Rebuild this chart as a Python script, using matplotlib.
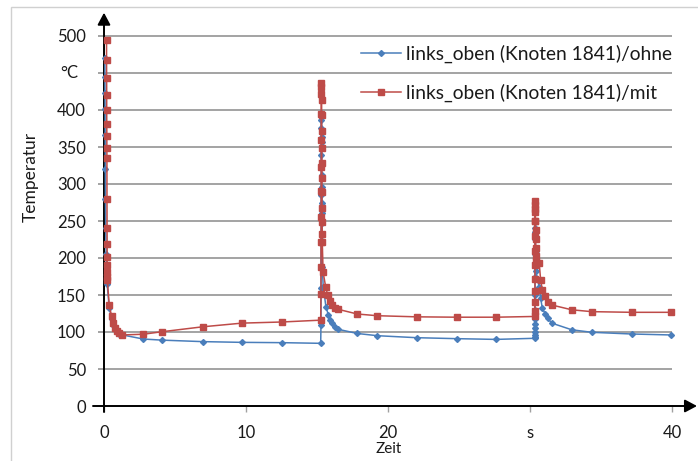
import matplotlib
matplotlib.use("Agg")
import matplotlib.pyplot as plt
from matplotlib.patches import Rectangle

plt.rcParams['font.family'] = ['Lato', 'DejaVu Sans']

# Zeit [s] / Temperatur [°C] -- links_oben (Knoten 1841), ohne
t_ohne = [0.06, 0.065, 0.07, 0.075, 0.08, 0.09, 0.10, 0.12, 0.15, 0.18, 0.22, 0.37, 0.54, 0.66,
          0.77, 0.94, 1.08, 1.3, 2.77, 4.1, 6.94, 9.72, 12.5, 15.26,
          15.28, 15.285, 15.29, 15.295, 15.30, 15.305, 15.31, 15.315, 15.32, 15.325, 15.33,
          15.335, 15.34, 15.345, 15.35, 15.355, 15.36, 15.365, 15.37, 15.44, 15.63, 15.8,
          15.92, 16.08, 16.27, 16.5, 17.84, 19.25, 22.02, 24.84, 27.6, 30.33,
          30.34, 30.34, 30.345, 30.345, 30.35, 30.35, 30.355, 30.36, 30.36, 30.365, 30.37,
          30.375, 30.38, 30.385, 30.39, 30.40, 30.42, 30.5, 30.65, 30.75, 30.87, 31.06,
          31.25, 31.53, 32.94, 34.34, 37.16, 39.93]
T_ohne = [470, 445, 423, 401, 366, 320, 280, 240, 205, 180, 165, 132, 118, 110,
          104, 100, 97.5, 96, 90.5, 89, 87, 86, 85.6, 84.7,
          110, 160, 222, 285, 339, 376, 396, 386, 364, 357, 328,
          312, 296, 274, 261, 247, 231, 222, 188, 161, 134, 123,
          116, 112, 107, 103.6, 98, 95, 92.3, 91, 90, 91.5,
          93, 96, 100, 105, 111, 118, 130, 150, 175, 205, 235,
          250, 240, 225, 210, 195, 182, 172, 161, 145.5, 132, 125,
          118.5, 112, 103, 99.6, 97.3, 96]

# links_oben (Knoten 1841), mit
t_mit = [0.18, 0.18, 0.185, 0.19, 0.19, 0.195, 0.20, 0.20, 0.205, 0.21, 0.215, 0.22, 0.22,
         0.225, 0.23, 0.23, 0.235, 0.37, 0.54, 0.66, 0.77, 0.94, 1.08, 1.3, 2.77, 4.1,
         6.94, 9.72, 12.5, 15.26,
         15.28, 15.28, 15.285, 15.29, 15.29, 15.295, 15.30, 15.30, 15.305, 15.31, 15.315,
         15.32, 15.325, 15.33, 15.335, 15.34, 15.345, 15.35, 15.355, 15.36, 15.365, 15.37,
         15.43, 15.61, 15.75, 15.92, 16.08, 16.27, 16.5, 17.84, 19.25, 22.02, 24.84, 27.6,
         30.33,
         30.34, 30.34, 30.345, 30.35, 30.35, 30.355, 30.36, 30.36, 30.365, 30.37, 30.375,
         30.38, 30.385, 30.39, 30.395, 30.40, 30.41, 30.45, 30.65, 30.75, 30.87, 31.06,
         31.25, 31.53, 32.94, 34.34, 37.16, 39.93]
T_mit = [494, 468, 443, 420, 400, 381, 365, 349, 335, 280, 241, 219, 202,
         190, 181, 175, 170, 136, 121, 112, 105, 102, 98, 96, 97, 100.4,
         107, 112, 113.5, 116,
         152, 188, 222, 256, 290, 323, 360, 394, 422, 436, 431,
         413, 393, 371, 348, 328, 308, 289, 267, 249, 233, 222,
         181, 161, 150, 142, 136.5, 133, 130.6, 124.3, 122, 120.5, 120, 120,
         121,
         128, 140, 155, 172, 190, 210, 230, 250, 266, 277, 272,
         262, 250, 238, 226, 214, 203, 196, 193, 170, 157, 148,
         141, 136.5, 130, 127.5, 126.6, 126.6]

x_ticks = [0, 10, 20, 30, 40]
x_ticklabels = ['0', '10', '20', 's', '40']
y_ticks = [0, 50, 100, 150, 200, 250, 300, 350, 400, 450, 500]
y_ticklabels = ['0', '50', '100', '150', '200', '250', '300', '350', '400', '', '500']

label_ohne = 'links_oben (Knoten 1841)/ohne'
label_mit = 'links_oben (Knoten 1841)/mit'

BLUE = '#4A7EBB'
RED = '#BE4B48'
GRID = '#8a8a8a'
TEXT = '#1a1a1a'

W, H = 698, 461
fig = plt.figure(figsize=(W / 100, H / 100), dpi=100)

# plot area in pixel terms
x0_px, x1_px = 104, 697
y0_px, y1_px = 406, 12.7
px_per_x = 14.2
px_per_y = 0.74
ax = fig.add_axes([x0_px / W, (H - y0_px) / H, (x1_px - x0_px) / W, (y0_px - y1_px) / H])
xmax = (x1_px - x0_px) / px_per_x
ymax = (y0_px - y1_px) / px_per_y
ax.set_xlim(0, xmax)
ax.set_ylim(0, ymax)
ax.patch.set_alpha(0)
for s in ax.spines.values():
    s.set_visible(False)

# horizontal gridlines up to t = 40
ax.hlines(y_ticks[1:], -6 / px_per_x, 40, colors=GRID, lw=1.1, zorder=1, clip_on=False)

# series
ax.plot(t_ohne, T_ohne, color=BLUE, lw=1.1, marker='D', ms=3.0, mec=BLUE, mfc=BLUE,
        label=label_ohne, zorder=3, clip_on=False)
ax.plot(t_mit, T_mit, color=RED, lw=1.1, marker='s', ms=3.7, mec=RED, mfc=RED,
        label=label_mit, zorder=4, clip_on=False)

# axes with arrow heads
arrow = dict(arrowstyle='-|>,head_length=0.6,head_width=0.32', color='black', lw=1.4,
             shrinkA=0, shrinkB=0, mutation_scale=12)
ax.annotate('', xy=(xmax, 0), xytext=(-11 / px_per_x, 0), xycoords='data',
            arrowprops=arrow, annotation_clip=False, zorder=2)
ax.annotate('', xy=(0, ymax), xytext=(0, -6 / px_per_y), xycoords='data',
            arrowprops=arrow, annotation_clip=False, zorder=2)

# x ticks: small grey marks below the axis
ax.set_xticks(x_ticks)
ax.set_xticklabels(x_ticklabels, fontsize=12, color=TEXT)
ax.tick_params(axis='x', direction='out', length=4, width=1.0, color='#a0a0a0', pad=10)
ax.set_yticks(y_ticks)
ax.set_yticklabels(y_ticklabels, fontsize=12, color=TEXT)
ax.tick_params(axis='y', length=0, pad=13)

# unit label in place of the 450 tick
fig.text(69 / W, 1 - 73 / H, '°C', fontsize=12, ha='center', va='center', color=TEXT)

# axis titles
fig.text(31 / W, 1 - 177 / H, 'Temperatur', fontsize=12.5, rotation=90,
         ha='center', va='center', color=TEXT)
fig.text(389 / W, 1 - 449 / H, 'Zeit', fontsize=11, ha='center', va='center', color=TEXT,
         bbox=dict(facecolor='white', edgecolor='none', pad=2.5))

# legend
leg = ax.legend(loc='upper left', bbox_to_anchor=(361 / W, 1 - 45 / H),
                bbox_transform=fig.transFigure, frameon=False, fontsize=13.8,
                handlelength=2.1, handletextpad=0.27, labelspacing=1.05, numpoints=1,
                borderaxespad=0, borderpad=0)
for txt in leg.get_texts():
    txt.set_color(TEXT)

# chart frame
fig.patches.append(Rectangle((11 / W, -0.1), 1.0, (1 - 7 / H) + 0.1, transform=fig.transFigure,
                             fill=False, edgecolor='#d0d0d0', lw=1.0))

fig.savefig('out.png', dpi=100)
